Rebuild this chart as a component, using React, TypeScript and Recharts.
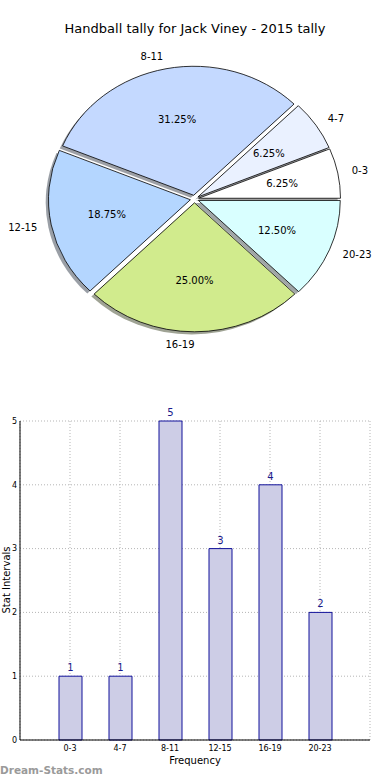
import React from 'react';
import { PieChart, Pie, Cell, Sector, BarChart, Bar, XAxis, YAxis, CartesianGrid, LabelList } from 'recharts';

const categories = ['0-3', '4-7', '8-11', '12-15', '16-19', '20-23'];
const counts = [1, 1, 5, 3, 4, 2];
const sliceColors = ['#ffffff', '#eaf1ff', '#c4d9ff', '#b4d6ff', '#d1eb8d', '#d9ffff'];
const yTicks = [0, 1, 2, 3, 4, 5];

const data = categories.map((name, i) => ({ name, value: counts[i] }));

const FONT = "'DejaVu Sans', sans-serif";
const RAD = Math.PI / 180;
// matplotlib left the axes unequal, so the pie is a bit wider than tall
const SX = 1.1;
const EXPLODE = 3.8;

function shade(hex: string) {
  const n = parseInt(hex.slice(1), 16);
  const r = Math.round(((n >> 16) & 255) * 0.3);
  const g = Math.round(((n >> 8) & 255) * 0.3);
  const b = Math.round((n & 255) * 0.3);
  return `rgb(${r},${g},${b})`;
}

function wedge(isShadow: boolean) {
  return (p: any) => {
    const a = p.midAngle * RAD;
    const dx = EXPLODE * Math.cos(a) * SX + (isShadow ? -2.8 : 0);
    const dy = -EXPLODE * Math.sin(a) + (isShadow ? 2.6 : 0);
    return (
      <g transform={`translate(${p.cx + dx} ${p.cy + dy}) scale(${SX} 1) translate(${-p.cx} ${-p.cy})`}>
        <Sector
          cx={p.cx}
          cy={p.cy}
          innerRadius={0}
          outerRadius={p.outerRadius}
          startAngle={p.startAngle}
          endAngle={p.endAngle}
          fill={isShadow ? shade(p.fill) : p.fill}
          fillOpacity={isShadow ? 0.5 : 1}
          stroke={isShadow ? 'none' : '#000'}
          strokeWidth={0.8}
          vectorEffect="non-scaling-stroke"
        />
      </g>
    );
  };
}

function pieLabel(p: any) {
  const a = p.midAngle * RAD;
  const c = Math.cos(a);
  const s = Math.sin(a);
  const r = p.outerRadius;
  const name = p.payload?.name ?? p.name;
  return (
    <g fontFamily={FONT} fontSize={10} fill="#000">
      <text
        x={p.cx + c * (1.1 * r + EXPLODE) * SX}
        y={p.cy - s * (1.1 * r + EXPLODE)}
        textAnchor={c > 0 ? 'start' : 'end'}
        dominantBaseline="central"
      >
        {name}
      </text>
      <text
        x={p.cx + c * (0.6 * r + EXPLODE) * SX}
        y={p.cy - s * (0.6 * r + EXPLODE)}
        textAnchor="middle"
        dominantBaseline="central"
      >
        {(p.percent * 100).toFixed(2)}%
      </text>
    </g>
  );
}

export default function App() {
  return (
    <div style={{ position: 'absolute', left: 0, top: 0, width: 390, height: 780, background: '#fff', fontFamily: FONT }}>
      <div style={{ position: 'absolute', left: 0, top: 21, width: 390, textAlign: 'center', fontSize: 13 }}>
        Handball tally for Jack Viney - 2015 tally
      </div>

      <div style={{ position: 'absolute', left: 0, top: 0 }}>
        <PieChart width={390} height={370} margin={{ top: 0, right: 0, bottom: 0, left: 0 }}>
          <Pie
            data={data}
            dataKey="value"
            nameKey="name"
            cx={194.5}
            cy={199}
            outerRadius={129}
            startAngle={0}
            endAngle={360}
            shape={wedge(true)}
            label={false}
            labelLine={false}
            isAnimationActive={false}
          >
            {data.map((d, i) => (
              <Cell key={`s-${d.name}`} fill={sliceColors[i]} />
            ))}
          </Pie>
          <Pie
            data={data}
            dataKey="value"
            nameKey="name"
            cx={194.5}
            cy={199}
            outerRadius={129}
            startAngle={0}
            endAngle={360}
            shape={wedge(false)}
            label={pieLabel}
            labelLine={false}
            isAnimationActive={false}
          >
            {data.map((d, i) => (
              <Cell key={`c-${d.name}`} fill={sliceColors[i]} />
            ))}
          </Pie>
        </PieChart>
      </div>

      <div style={{ position: 'absolute', left: 0, top: 400 }}>
        <BarChart width={390} height={380} data={data} margin={{ top: 21, right: 20, bottom: 0, left: 0 }}>
          <XAxis
            dataKey="name"
            height={40}
            padding={{ left: 25, right: 25 }}
            tickLine={false}
            tickSize={0}
            tickMargin={5}
            axisLine={{ stroke: '#000' }}
            tick={{ fontSize: 8, fill: '#000', fontFamily: FONT }}
            interval={0}
            label={{ value: 'Frequency', position: 'insideBottom', offset: 16, fontSize: 10, fill: '#000', fontFamily: FONT }}
          />
          <XAxis xAxisId="top" orientation="top" dataKey="name" height={0} tick={false} tickLine={false} axisLine={{ stroke: '#000' }} />
          <YAxis
            width={20}
            domain={[0, 5]}
            ticks={yTicks}
            tickLine={false}
            tickSize={0}
            tickMargin={3}
            axisLine={{ stroke: '#000' }}
            tick={{ fontSize: 8, fill: '#000', fontFamily: FONT }}
          />
          <YAxis yAxisId="right" orientation="right" width={0} tick={false} tickLine={false} axisLine={{ stroke: '#000' }} />
          <Bar dataKey="value" barSize={23} fill="#cdcde6" stroke="#10109a" strokeWidth={1} isAnimationActive={false}>
            <LabelList dataKey="value" position="top" offset={5} fill="#1b1b8c" fontSize={10} fontFamily={FONT} />
          </Bar>
          <CartesianGrid stroke="#b5b5b5" strokeDasharray="1 2" />
        </BarChart>
      </div>

      <div
        style={{
          position: 'absolute',
          left: 7,
          top: 580,
          fontSize: 10,
          lineHeight: 1,
          whiteSpace: 'nowrap',
          transform: 'translate(-50%, -50%) rotate(-90deg)',
        }}
      >
        Stat Intervals
      </div>

      <div style={{ position: 'absolute', left: 0, top: 764, fontSize: 10.5, fontWeight: 'bold', color: '#9a9a9a' }}>
        Dream-Stats.com
      </div>
    </div>
  );
}
